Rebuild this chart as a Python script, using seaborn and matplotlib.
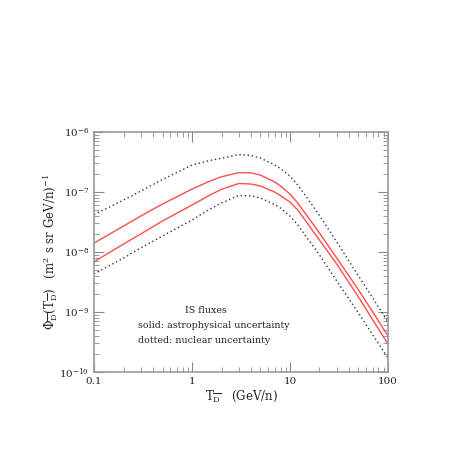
import numpy as np
import pandas as pd
import matplotlib
matplotlib.use("Agg")
import matplotlib.pyplot as plt
import matplotlib.ticker as mticker
import seaborn as sns

# kinetic energy per nucleon (GeV/n)
T = [0.1, 0.2, 0.3, 0.5, 1, 1.5, 2, 3, 4, 5, 7, 8, 10, 12, 15, 20, 30, 50, 70, 100]

# interstellar antideuteron fluxes (m^2 s sr GeV/n)^-1
nuc_upper = [4.2e-8, 7.36e-8, 1.04e-7, 1.62e-7, 2.82e-7, 3.35e-7, 3.65e-7, 4.22e-7, 4.07e-7,
             3.69e-7, 2.82e-7, 2.46e-7, 1.85e-7, 1.31e-7, 7.94e-8, 4.06e-8, 1.47e-8,
             3.98e-9, 1.71e-9, 6.81e-10]
astro_upper = [1.41e-8, 2.71e-8, 3.98e-8, 6.31e-8, 1.12e-7, 1.51e-7, 1.80e-7, 2.11e-7, 2.09e-7,
               1.92e-7, 1.47e-7, 1.26e-7, 9.26e-8, 6.56e-8, 3.98e-8, 2.07e-8, 7.94e-9,
               2.33e-9, 1.0e-9, 3.98e-10]
astro_lower = [6.89e-9, 1.36e-8, 2.0e-8, 3.29e-8, 6.07e-8, 8.81e-8, 1.11e-7, 1.39e-7, 1.36e-7,
               1.26e-7, 1.0e-7, 8.74e-8, 6.81e-8, 5.01e-8, 3.04e-8, 1.58e-8, 6.31e-9,
               1.78e-9, 7.36e-10, 2.93e-10]
nuc_lower = [4.3e-9, 7.94e-9, 1.17e-8, 1.85e-8, 3.41e-8, 5.15e-8, 6.56e-8, 8.74e-8, 8.64e-8,
             7.94e-8, 6.19e-8, 5.41e-8, 3.98e-8, 2.82e-8, 1.71e-8, 8.91e-9, 3.29e-9,
             9.62e-10, 4.14e-10, 1.71e-10]

df = pd.DataFrame({'T': T, 'nuc_upper': nuc_upper, 'astro_upper': astro_upper,
                   'astro_lower': astro_lower, 'nuc_lower': nuc_lower})

sns.set_style("ticks")
plt.rcParams['font.family'] = ['DejaVu Serif']
plt.rcParams['mathtext.fontset'] = 'dejavuserif'

fig = plt.figure(figsize=(4.57, 4.57), dpi=100)
ax = fig.add_axes([0.2057, 0.186, 0.6433, 0.525])

red = '#ff4d4d'
sns.lineplot(data=df, x='T', y='astro_upper', color=red, lw=1.0, ax=ax)
sns.lineplot(data=df, x='T', y='astro_lower', color=red, lw=1.0, ax=ax)
sns.lineplot(data=df, x='T', y='nuc_upper', color='#333333', lw=1.0, ls=(0, (1, 2)), ax=ax)
sns.lineplot(data=df, x='T', y='nuc_lower', color='#333333', lw=1.0, ls=(0, (1, 2)), ax=ax)

ax.set_xscale('log')
ax.set_yscale('log')
ax.set_xlim(0.1, 100)
ax.set_ylim(1e-10, 1e-6)

ax.xaxis.set_major_formatter(mticker.FuncFormatter(lambda v, p: '%g' % v))
ax.yaxis.set_major_locator(mticker.LogLocator(base=10, numticks=10))
ax.yaxis.set_minor_locator(mticker.LogLocator(base=10, subs=np.arange(2, 10), numticks=20))
ax.tick_params(which='both', direction='in', top=True, right=True, color='#888888', labelsize=7.5)
ax.tick_params(which='major', length=7, width=0.8)
ax.tick_params(which='minor', length=3.5, width=0.6)
for s in ax.spines.values():
    s.set_color('#999999')
    s.set_linewidth(1.2)

ax.set_xlabel(r'T$_{\overline{\rm D}}$   (GeV/n)', fontsize=8.5, labelpad=2)
ax.set_ylabel(r'$\Phi_{\overline{\rm D}}$(T$_{\overline{\rm D}}$)   (m$^2$ s sr GeV/n)$^{-1}$',
              fontsize=8.5, labelpad=-1)

ax.text(0.31, 0.245, 'IS fluxes', transform=ax.transAxes, fontsize=6.8)
ax.text(0.149, 0.183, 'solid: astrophysical uncertainty', transform=ax.transAxes, fontsize=6.8)
ax.text(0.149, 0.12, 'dotted: nuclear uncertainty', transform=ax.transAxes, fontsize=6.8)

fig.savefig('out.png', dpi=100)
